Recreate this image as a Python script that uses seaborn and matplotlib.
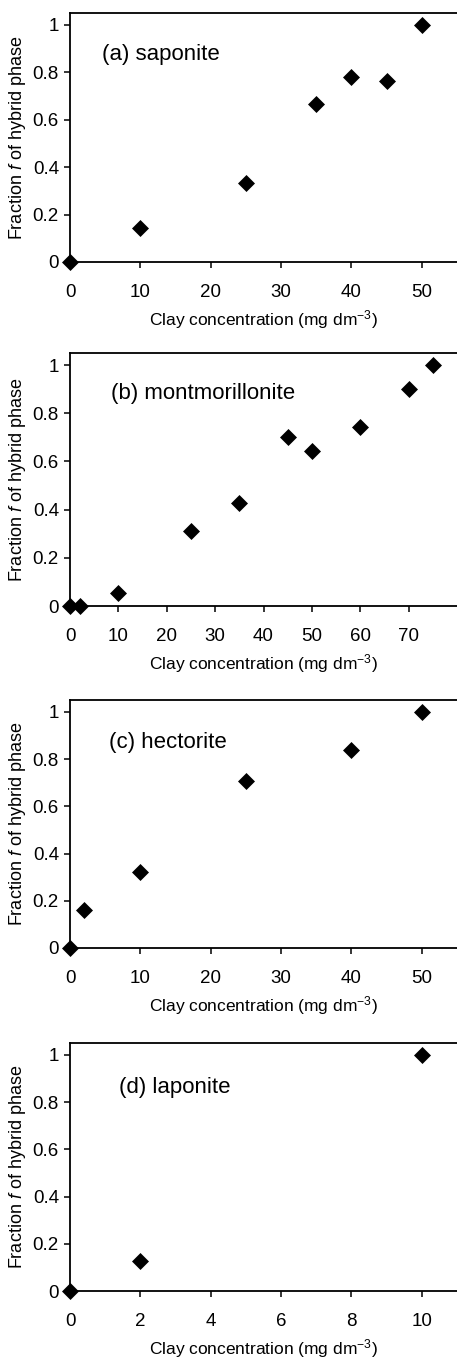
import matplotlib
matplotlib.use("Agg")
import matplotlib.pyplot as plt
import seaborn as sns
import pandas as pd

# ---- data ----
sap_x = [0, 10, 25, 35, 40, 45, 50]
sap_y = [0, 0.145, 0.332, 0.666, 0.782, 0.765, 1.0]

mont_x = [0, 2, 10, 25, 35, 45, 50, 60, 70, 75]
mont_y = [0, 0, 0.055, 0.313, 0.429, 0.703, 0.643, 0.741, 0.902, 1.0]

hect_x = [0, 2, 10, 25, 40, 50]
hect_y = [0, 0.16, 0.323, 0.709, 0.840, 1.0]

lap_x = [0, 2, 10]
lap_y = [0, 0.128, 1.0]

panel_labels = ["(a) saponite", "(b) montmorillonite", "(c) hectorite", "(d) laponite"]
xticks_list = [[0, 10, 20, 30, 40, 50],
               [0, 10, 20, 30, 40, 50, 60, 70],
               [0, 10, 20, 30, 40, 50],
               [0, 2, 4, 6, 8, 10]]
xmax_list = [55, 80, 55, 11]
yticks = [0, 0.2, 0.4, 0.6, 0.8, 1.0]
ytick_labels = ["0", "0.2", "0.4", "0.6", "0.8", "1"]
label_pos = [(4.5, 0.873), (8.4, 0.882), (5.6, 0.870), (1.4, 0.86)]

xlabel = r"Clay concentration (mg dm$^{-3}$)"
ylabel = r"Fraction $\mathit{f}$ of hybrid phase"

# ---- style ----
sns.set_theme(style="ticks")
plt.rcParams["font.family"] = ["Liberation Sans", "DejaVu Sans"]
plt.rcParams["mathtext.fontset"] = "custom"
plt.rcParams["mathtext.rm"] = "Liberation Sans"
plt.rcParams["mathtext.it"] = "Liberation Sans:italic"
plt.rcParams["mathtext.default"] = "regular"

W, H = 457, 1359
fig = plt.figure(figsize=(W / 100, H / 100), dpi=100)

rects = [(70, 13, 262), (70, 353, 606), (70, 700, 948), (70, 1043, 1291)]
datasets = [(sap_x, sap_y), (mont_x, mont_y), (hect_x, hect_y), (lap_x, lap_y)]

for i, ((xs, ys), (l, t, b)) in enumerate(zip(datasets, rects)):
    ax = fig.add_axes([l / W, 1 - b / H, 1 - l / W, (b - t) / H])
    df = pd.DataFrame({"x": xs, "y": ys})
    sns.scatterplot(data=df, x="x", y="y", ax=ax, marker="D", s=75,
                    color="black", linewidth=0, clip_on=False, zorder=5)
    ax.set_xlim(0, xmax_list[i])
    ax.set_ylim(0, 1.05)
    ax.set_xticks(xticks_list[i])
    ax.set_xticklabels([str(v) for v in xticks_list[i]])
    ax.set_yticks(yticks)
    ax.set_yticklabels(ytick_labels)
    ax.spines["right"].set_visible(False)
    for s in ["left", "bottom", "top"]:
        ax.spines[s].set_linewidth(1.3)
        ax.spines[s].set_color("black")
    ax.tick_params(axis="both", direction="out", length=4, width=1.1,
                   colors="black", labelsize=13.5)
    ax.tick_params(axis="x", pad=12)
    ax.tick_params(axis="y", pad=4)
    ax.set_xlabel(xlabel, fontsize=12.5, labelpad=5, color="black")
    ax.set_ylabel(ylabel, fontsize=13, labelpad=3, color="black")
    ax.text(label_pos[i][0], label_pos[i][1], panel_labels[i], fontsize=16,
            va="center", ha="left", color="black")
    ax.set_facecolor("white")

fig.savefig("out.png", dpi=100, facecolor="white")
